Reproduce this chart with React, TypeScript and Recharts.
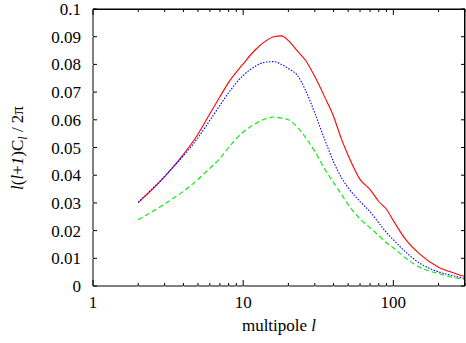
import React from 'react';
import { LineChart, Line, XAxis, YAxis, ReferenceLine } from 'recharts';

// multipole l and the three spectra
const ells = [2, 3, 4, 5, 6, 7, 8, 10, 12, 14, 16, 18, 20, 23, 26, 30, 35, 40, 45, 50, 60, 70, 80, 90, 100, 120, 150, 200, 250, 300];
const redVals = [0.0301, 0.0395, 0.0475, 0.0548, 0.0622, 0.0683, 0.0735, 0.0802, 0.0852, 0.0883, 0.09, 0.0903, 0.0886, 0.0848, 0.0815, 0.0756, 0.0681, 0.0612, 0.0532, 0.0472, 0.0385, 0.0348, 0.0305, 0.0277, 0.0236, 0.017, 0.0115, 0.0068, 0.0048, 0.0034];
const blueVals = [0.0302, 0.0396, 0.047, 0.0535, 0.0598, 0.0652, 0.0698, 0.076, 0.0793, 0.0808, 0.081, 0.08, 0.0785, 0.076, 0.0707, 0.0624, 0.0527, 0.0448, 0.0392, 0.0355, 0.0305, 0.0268, 0.0228, 0.0193, 0.0167, 0.0124, 0.0082, 0.0051, 0.0037, 0.0027];
const greenVals = [0.0239, 0.0296, 0.0342, 0.0385, 0.0425, 0.046, 0.05, 0.0556, 0.0585, 0.0603, 0.061, 0.0606, 0.06, 0.0573, 0.0536, 0.0486, 0.0421, 0.0373, 0.0332, 0.0294, 0.0242, 0.021, 0.0182, 0.0156, 0.0138, 0.0102, 0.0067, 0.0045, 0.0031, 0.0024];

const xMajor = [1, 10, 100];
const xAllTicks = [1, 2, 3, 4, 5, 6, 7, 8, 9, 10, 20, 30, 40, 50, 60, 70, 80, 90, 100, 200, 300];
const yTicks = [0, 0.01, 0.02, 0.03, 0.04, 0.05, 0.06, 0.07, 0.08, 0.09, 0.1];

const data = ells.map((l, i) => ({
  l,
  red: redVals[i],
  blue: blueVals[i],
  green: greenVals[i],
}));

// plot box edges (from margins and axis sizes below)
const LEFT = 93;
const RIGHT = 465;
const TOP = 9;
const BOTTOM = 286;
const FS = 17;

const fmtY = (v: number) => String(+v.toFixed(2));

// gnuplot-style ticks: inward on all four sides, labels outside
const BottomTick = (props: any) => {
  const { x, payload } = props;
  const major = xMajor.includes(payload.value);
  const len = major ? 6 : 3;
  return (
    <g>
      <line x1={x} y1={BOTTOM} x2={x} y2={BOTTOM - len} stroke="#000" />
      <line x1={x} y1={TOP} x2={x} y2={TOP + len} stroke="#000" />
      {major && (
        <text x={x} y={308} textAnchor="middle" fontSize={FS} fill="#000">
          {payload.value}
        </text>
      )}
    </g>
  );
};

const LeftTick = (props: any) => {
  const { y, payload } = props;
  return (
    <g>
      <line x1={LEFT} y1={y} x2={LEFT + 4} y2={y} stroke="#000" />
      <line x1={RIGHT} y1={y} x2={RIGHT - 4} y2={y} stroke="#000" />
      <text x={81} y={y + 6} textAnchor="end" fontSize={FS} fill="#000">
        {fmtY(payload.value)}
      </text>
    </g>
  );
};

const titleStyle: React.CSSProperties = {
  position: 'absolute',
  fontSize: FS,
  whiteSpace: 'nowrap',
  lineHeight: 1,
  color: '#000',
};

export default function App() {
  return (
    <div style={{ position: 'absolute', left: 0, top: 0, width: 466, height: 343, background: '#fff' }}>
      <LineChart width={466} height={343} data={data} margin={{ top: TOP, right: 466 - RIGHT, bottom: 0, left: 0 }}>
        <XAxis
          xAxisId="main"
          dataKey="l"
          type="number"
          scale="log"
          domain={[1, 300]}
          allowDataOverflow
          ticks={xAllTicks}
          interval={0}
          tick={<BottomTick />}
          tickLine={{ stroke: '#fff' }}
          axisLine={{ stroke: '#000' }}
          height={343 - BOTTOM}
        />
        <YAxis
          yAxisId="main"
          type="number"
          domain={[0, 0.1]}
          ticks={yTicks}
          interval={0}
          tick={(p: any) => <LeftTick {...p} />}
          tickLine={{ stroke: '#fff' }}
          axisLine={{ stroke: '#000' }}
          width={LEFT}
        />

        {/* closing frame, top and right */}
        <ReferenceLine xAxisId="main" yAxisId="main" y={0.1} stroke="#000" />
        <ReferenceLine xAxisId="main" yAxisId="main" x={300} stroke="#000" ifOverflow="extendDomain" />

        <Line xAxisId="main" yAxisId="main" type="monotone" dataKey="red" stroke="#ff0000" strokeWidth={1.1}
          dot={false} isAnimationActive={false} />
        <Line xAxisId="main" yAxisId="main" type="monotone" dataKey="blue" stroke="#0000ff" strokeWidth={1.1}
          strokeDasharray="1.5 1.5" dot={false} isAnimationActive={false} />
        <Line xAxisId="main" yAxisId="main" type="monotone" dataKey="green" stroke="#00ee00" strokeWidth={1.1}
          strokeDasharray="5 3" dot={false} isAnimationActive={false} />
      </LineChart>

      {/* plot box border (top and right), in case the frame lines are not drawn */}
      <div
        style={{
          position: 'absolute',
          left: LEFT,
          top: TOP,
          width: RIGHT - LEFT,
          height: BOTTOM - TOP,
          borderTop: '1px solid #000',
          borderRight: '1px solid #000',
          boxSizing: 'border-box',
          pointerEvents: 'none',
        }}
      />

      {/* axis titles */}
      <div style={{ ...titleStyle, left: (LEFT + RIGHT) / 2, top: 325, transform: 'translate(-50%, -50%)' }}>
        multipole <i>l</i>
      </div>
      <div style={{ ...titleStyle, left: 17, top: (TOP + BOTTOM) / 2, transform: 'translate(-50%, -50%) rotate(-90deg)' }}>
        <i>l</i>(<i>l</i>+<i>1</i>)C<i style={{ fontSize: 12, position: 'relative', top: 4 }}>l</i> / 2π
      </div>
    </div>
  );
}
